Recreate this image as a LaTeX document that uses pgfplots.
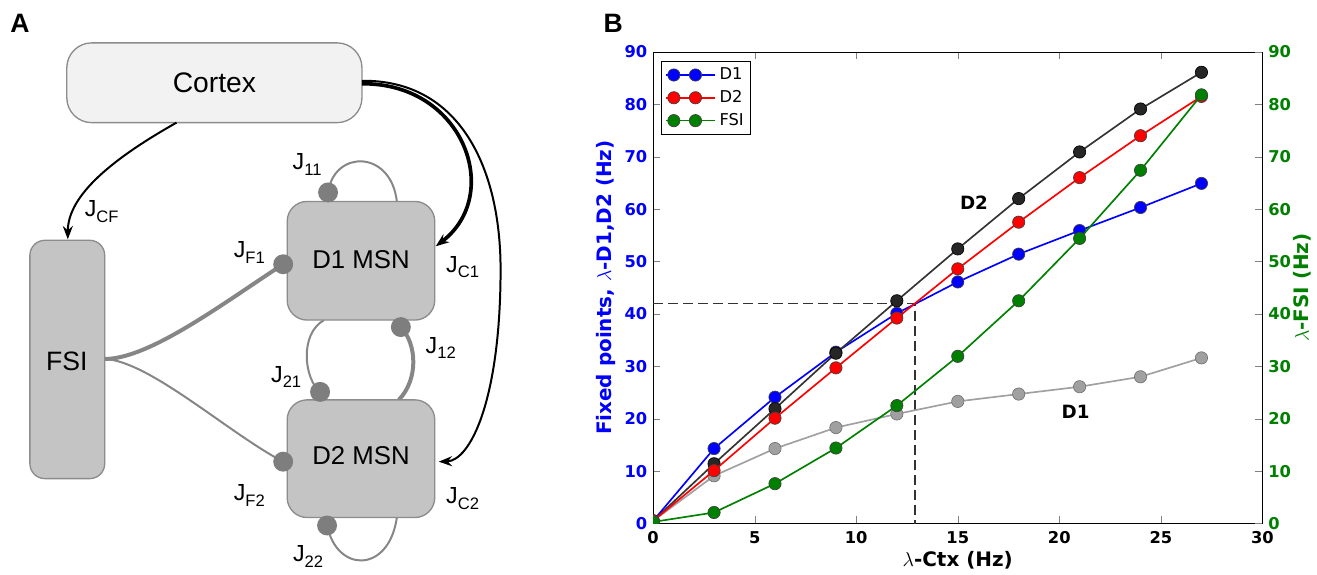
\documentclass[border=0pt]{standalone}
\usepackage{fontspec}
\setmainfont{DejaVu Sans}
\newfontfamily\arialfont{Liberation Sans}
\usepackage{pgfplots}
\usepackage{pgfplotstable}
\pgfplotsset{compat=1.18}
\usetikzlibrary{arrows.meta}

\definecolor{boxgray}{HTML}{C4C4C4}
\definecolor{edgegray}{HTML}{8C8C8C}
\definecolor{cortexfill}{HTML}{F2F2F2}
\definecolor{dotgray}{HTML}{7E7E7E}
\definecolor{linegray}{HTML}{868686}
\definecolor{mplgreen}{HTML}{008000}
\definecolor{darkline}{HTML}{333333}
\definecolor{lightline}{HTML}{A0A0A0}

% fixed points vs cortical rate
\pgfplotstableread{
x    blue  red   black gray  green
0    0.5   0.5   0.5   0.5   0.3
3    14.3  10.1  11.4  9.1   2.1
6    24.1  20.1  21.9  14.3  7.6
9    32.7  29.7  32.5  18.3  14.4
12   40.1  39.2  42.5  20.9  22.5
15   46.1  48.6  52.4  23.3  31.9
18   51.4  57.5  62.0  24.7  42.5
21   55.9  66.0  70.9  26.1  54.4
24   60.3  74.0  79.1  28.0  67.4
27   64.9  81.5  86.1  31.6  81.8
}\fixedpts

\pgfplotsset{
  ser/.style={line width=1pt, mark=*, mark size=3.7pt,
    mark options={line width=0.4pt, draw=black!75, fill=#1}, color=#1},
  fsistyle/.style={ser=mplgreen},
  legend image code/.code={\path (-5pt,0pt) -- (25pt,0pt);
    \draw plot coordinates {(0pt,0pt) (13pt,0pt)};},
}
\newcommand\J[1]{J\raisebox{-0.45ex}{\fontsize{10}{12}\selectfont #1}}

\begin{document}
\begin{tikzpicture}
\begin{scope}[x=0.6pt,y=-0.6pt]
\path[use as bounding box] (0,0) rectangle (1317,575);
\coordinate (Bsw) at (655,525);
\node[font=\arialfont\bfseries\fontsize{16}{18}\selectfont] at (20,23) {A};
\node[font=\arialfont\bfseries\fontsize{16}{18}\selectfont] at (615,23) {B};
% inhibitory connections
\draw[linegray, line width=2.4pt] (105,360) .. controls (150,360) and (224,304) .. (284,265);
\draw[linegray, line width=1.2pt] (105,360) .. controls (150,362) and (230,435) .. (284,463);
\draw[linegray, line width=1.2pt] (329,193) .. controls (335,150) and (392,150) .. (398,202);
\draw[linegray, line width=1.2pt] (328,527) .. controls (338,575) and (390,575) .. (398,519);
\draw[linegray, line width=1.2pt] (325,321) .. controls (300,335) and (305,380) .. (321,393);
\draw[linegray, line width=2.4pt] (400,401) .. controls (420,380) and (418,345) .. (402,328);
% boxes
\draw[edgegray, fill=cortexfill, line width=0.8pt, rounded corners=15pt] (67,43) rectangle (363,123);
\draw[edgegray, fill=boxgray, line width=0.8pt, rounded corners=9pt] (30,241) rectangle (105,480);
\draw[edgegray, fill=boxgray, line width=0.8pt, rounded corners=12pt] (288,202) rectangle (436,321);
\draw[edgegray, fill=boxgray, line width=0.8pt, rounded corners=12pt] (288,401) rectangle (436,519);
% synapses
\foreach \p in {(329,193),(284,265),(402,328),(321,393),(284,463),(328,527)}
  \fill[dotgray] \p circle[radius=6pt];
% box names
\node[font=\arialfont\fontsize{17}{19}\selectfont] at (215,83) {Cortex};
\node[font=\arialfont\fontsize{16}{18}\selectfont] at (67,362) {FSI};
\node[font=\arialfont\fontsize{15.5}{17}\selectfont] at (362,260) {D1 MSN};
\node[font=\arialfont\fontsize{15.5}{17}\selectfont] at (362,457) {D2 MSN};
% weights
\begin{scope}[every node/.style={font=\arialfont\fontsize{14}{16}\selectfont}]
\node at (102,212) {\J{CF}};
\node at (308,165) {\J{11}};
\node at (250,253) {\J{F1}};
\node at (464,268) {\J{C1}};
\node at (442,349) {\J{12}};
\node at (287,378) {\J{21}};
\node at (250,497) {\J{F2}};
\node at (464,500) {\J{C2}};
\node at (309,558) {\J{22}};
\end{scope}
% excitatory input
\draw[black, line width=1.2pt, -{Stealth[length=8pt,width=6pt]}] (177,123) .. controls (115,158) and (68,195) .. (68,240);
\draw[black, line width=2.2pt, -{Stealth[length=8pt,width=6pt]}] (363,84) .. controls (465,83) and (505,195) .. (437,247);
\draw[black, line width=1.2pt, -{Stealth[length=8pt,width=6pt]}] (363,81) .. controls (462,80) and (502,170) .. (502,270) .. controls (502,400) and (472,462) .. (440,463);
\end{scope}

\begin{axis}[
  at={(Bsw)}, anchor=south west, scale only axis,
  width=366.6pt, height=283.8pt,
  xmin=0, xmax=30, ymin=0, ymax=90,
  xtick={0,5,...,30}, ytick={0,10,...,90},
  tick align=inside, xtick pos=both, ytick pos=left,
  /pgf/number format/assume math mode=true,
  tick label style={font=\bfseries\fontsize{9.8}{11}\selectfont},
  xticklabel style={yshift=-1.5pt},
  yticklabel style={text=blue},
  xlabel={$\lambda$-Ctx (Hz)},
  xlabel style={font=\bfseries\fontsize{12}{14}\selectfont, at={(axis description cs:0.5,-0.078)}, anchor=center},
  ylabel={Fixed points, $\lambda$-D1,D2 (Hz)},
  ylabel style={font=\bfseries\fontsize{12}{14}\selectfont, text=blue, at={(axis description cs:-0.078,0.5)}, anchor=center},
  clip marker paths=true,
  legend style={at={(0.013,0.981)}, anchor=north west, draw=black, fill=white,
    font=\fontsize{9.8}{12}\selectfont, row sep=1pt, inner sep=2pt, cells={anchor=west}},
]
\addplot[forget plot, color=darkline, dash pattern=on 6pt off 3pt, line width=0.9pt] coordinates {(0,42) (12.9,42) (12.9,0)};
\addplot[forget plot, line width=1pt, color=lightline, mark=*, mark size=3.7pt, mark options={line width=0.4pt, draw=black!55, fill=lightline}] table[x=x, y=gray] {\fixedpts};
\addplot[ser=blue] table[x=x, y=blue] {\fixedpts};
\addplot[forget plot, line width=1pt, color=darkline, mark=*, mark size=3.7pt, mark options={line width=0.4pt, draw=black, fill=black!85}] table[x=x, y=black] {\fixedpts};
\addplot[ser=red] table[x=x, y=red] {\fixedpts};
\addlegendentry{D1}
\addlegendentry{D2}
\addlegendimage{fsistyle}
\addlegendentry{FSI}
\node[font=\bfseries\fontsize{11}{13}\selectfont] at (axis cs:15.8,61.3) {D2};
\node[font=\bfseries\fontsize{11}{13}\selectfont] at (axis cs:20.8,21.3) {D1};
\end{axis}

\begin{axis}[
  at={(Bsw)}, anchor=south west, scale only axis,
  width=366.6pt, height=283.8pt,
  xmin=0, xmax=30, ymin=0, ymax=90,
  axis x line=none, axis y line*=right,
  ytick={0,10,...,90}, tick align=inside,
  /pgf/number format/assume math mode=true,
  yticklabel style={font=\bfseries\fontsize{9.8}{11}\selectfont, text=mplgreen},
  ylabel={$\lambda$-FSI (Hz)},
  ylabel style={font=\bfseries\fontsize{12}{14}\selectfont, text=mplgreen, at={(axis description cs:1.066,0.5)}, anchor=center},
  clip marker paths=true,
]
\addplot[fsistyle] table[x=x, y=green] {\fixedpts};
\end{axis}
\end{tikzpicture}
\end{document}
